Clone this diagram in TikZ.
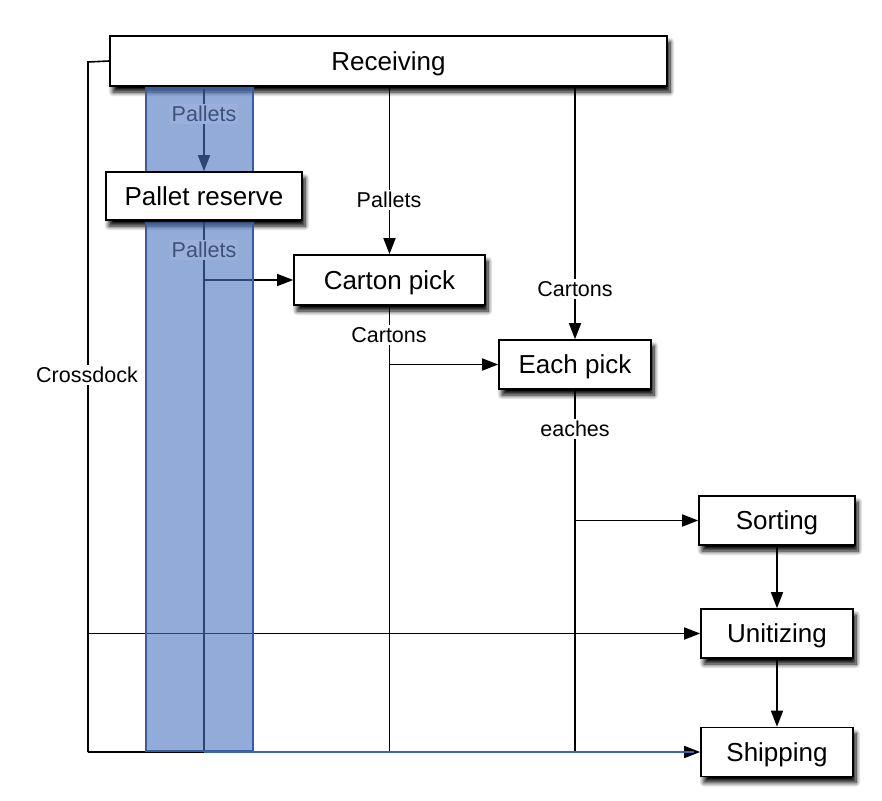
\documentclass[tikz,border=0pt]{standalone}
\usepackage{fontspec}
\setmainfont{Liberation Sans}
\usetikzlibrary{arrows.meta,shadows.blur}
\definecolor{colblue}{RGB}{75,115,190}
\definecolor{colborder}{RGB}{58,92,155}
\definecolor{selblue}{RGB}{60,100,190}
\begin{document}
\begin{tikzpicture}[x=1pt,y=-1pt,
  box/.style={draw=black,line width=1.6pt,fill=white,inner sep=0pt,text depth=0pt,
    font=\fontsize{26}{30}\selectfont,
    blur shadow={shadow xshift=3pt,shadow yshift=-6pt,shadow blur radius=4.5pt,shadow blur steps=8,shadow opacity=100}},
  lbl/.style={fill=white,inner sep=2pt,font=\fontsize{21.5}{25}\selectfont},
  conn/.style={line width=1.6pt},
  arr/.style={conn,-{Triangle[length=16pt,width=12pt]}}]
\useasboundingbox (0,0) rectangle (882,800);

% nodes
\node[box,minimum width=557pt,minimum height=50pt] (rec) at (388.5,61) {Receiving};
\node[box,minimum width=196pt,minimum height=48pt] (pr) at (204,196) {Pallet reserve};
\node[box,minimum width=191pt,minimum height=50pt] (cp) at (389.5,280) {Carton pick};
\node[box,minimum width=152pt,minimum height=49pt] (ep) at (575,364.5) {Each pick};
\node[box,minimum width=156pt,minimum height=49pt] (so) at (777,520.5) {Sorting};
\node[box,minimum width=152pt,minimum height=49pt] (un) at (777,633.5) {Unitizing};
\node[box,minimum width=152pt,minimum height=49pt] (sh) at (777,752) {Shipping};

\coordinate (cd) at (88,62);
\coordinate (bot) at (0,752);

% connectors
\draw[arr] (rec.south -| pr.north) -- (pr.north);
\draw[arr] (rec.south -| cp.north) -- (cp.north);
\draw[arr] (rec.south -| ep.north) -- (ep.north);
\draw[conn] (pr.south) -- (pr.south |- bot);
\draw[arr] (pr.south |- cp.west) -- (cp.west);
\draw[conn] (cp.south) -- (cp.south |- bot);
\draw[arr] (cp.south |- ep.west) -- (ep.west);
\draw[conn] (ep.south) -- (ep.south |- bot);
\draw[arr] (ep.south |- so.west) -- (so.west);
\draw[arr] (so) -- (un);
\draw[arr] (un) -- (sh);
\draw[conn] (rec.west) -- (cd) -- (cd |- bot);
\draw[arr] (cd |- bot) -- (sh.west);
\draw[arr] (cd |- un.west) -- (un.west);

% labels
\node[lbl] (l1) at (204,114) {Pallets};
\node[lbl] (l2) at (204,250) {Pallets};
\node[lbl] (l3) at (389,200) {Pallets};
\node[lbl] (l4) at (575,289) {Cartons};
\node[lbl,minimum width=100pt] (l5) at (389,335) {Cartons};
\node[lbl] (l6) at (575,429) {eaches};
\node[lbl] (l7) at (87,375) {Crossdock};

% highlighted column overlay
\fill[colblue,opacity=0.6] (146,88) rectangle (253,171);
\fill[colblue,opacity=0.6] (146,222) rectangle (253,751);
\draw[colborder,line width=1.4pt] (146,171) -- (146,88) -- (253,88) -- (253,171);
\draw[colborder,line width=1.4pt] (146,222) -- (146,751) -- (253,751) -- (253,222);
\fill[white,opacity=0.07] (l1.south west) rectangle (l1.north east);
\fill[white,opacity=0.07] (l2.south west) rectangle (l2.north east);

% selected path
\draw[selblue,line width=2.6pt] (pr.south |- bot) -- ([xshift=-6pt]sh.west);
\end{tikzpicture}
\end{document}
